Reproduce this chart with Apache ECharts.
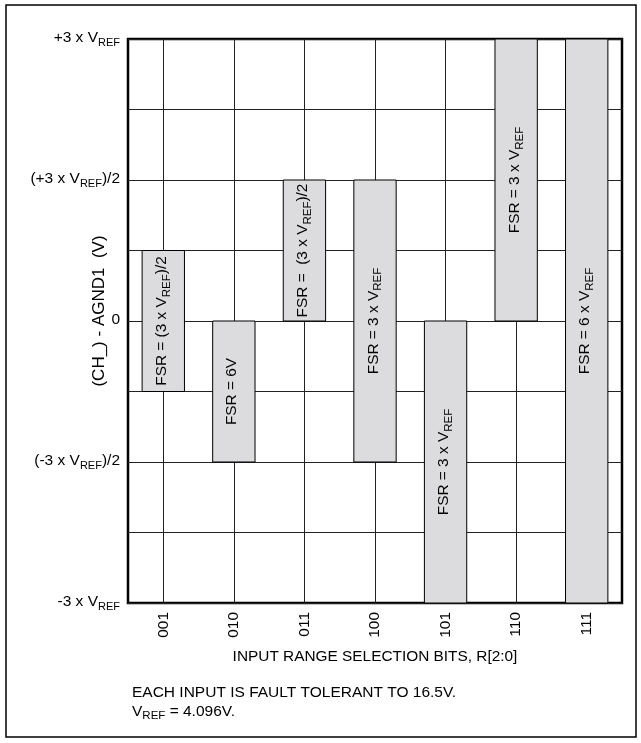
<!DOCTYPE html>
<html>
<head>
<meta charset="utf-8">
<script src="https://cdn.jsdelivr.net/npm/echarts@6/dist/echarts.min.js"></script>
<style>
  html, body { margin: 0; padding: 0; background: #fff; }
  #chart { width: 641px; height: 743px; }
</style>
</head>
<body>
<div id="chart"></div>
<script>
var categories = ['001', '010', '011', '100', '101', '110', '111'];
var rangeLow  = [-0.75, -1.5, 0,   -1.5, -3, 0, -3];
var rangeHigh = [ 0.75,  0,   1.5,  1.5,  0, 3,  3];
var barLabels = [
  '{a|FSR = (3 x V}{s|REF}{a|)/2}',
  '{a|FSR = 6V}',
  '{a|FSR =  (3 x V}{s|REF}{a|)/2}',
  '{a|FSR = 3 x V}{s|REF}',
  '{a|FSR = 3 x V}{s|REF}',
  '{a|FSR = 3 x V}{s|REF}',
  '{a|FSR = 6 x V}{s|REF}'
];
var yTickValues = [3, 1.5, 0, -1.5, -3];
var yTickLabels = [
  '{a|+3 x V}{s|REF}',
  '{a|(+3 x V}{s|REF}{a|)/2}',
  '{a|0}',
  '{a|(-3 x V}{s|REF}{a|)/2}',
  '{a|-3 x V}{s|REF}'
];

(function() {
  var font = '"Liberation Sans", Arial, sans-serif';
  var gridLine = '#222';

  function richStyle(size, sub) {
    return {
      a: { fontFamily: font, fontSize: size, color: '#000', lineHeight: size + 3, verticalAlign: 'top' },
      s: { fontFamily: font, fontSize: sub, color: '#000', lineHeight: sub, verticalAlign: 'bottom' }
    };
  }

  var chart = echarts.init(document.getElementById('chart'), null, { renderer: 'canvas' });

  var ranges = categories.map(function(c, i) {
    return [i, rangeLow[i], rangeHigh[i]];
  });

  chart.setOption({
    animation: false,
    grid: {
      left: 128, right: 19, top: 39, bottom: 140,
      show: true,
      borderColor: '#000',
      borderWidth: 2.5
    },
    xAxis: {
      type: 'category',
      data: categories,
      boundaryGap: true,
      name: 'INPUT RANGE SELECTION BITS, R[2:0]',
      nameLocation: 'middle',
      nameGap: 46,
      nameTextStyle: { fontFamily: font, fontSize: 15.4, color: '#000' },
      axisLine: { show: false },
      axisTick: { show: false },
      axisLabel: { rotate: 90, margin: 9, fontFamily: font, fontSize: 15.5, color: '#000' },
      splitLine: { show: false }
    },
    yAxis: {
      type: 'value',
      min: -3,
      max: 3,
      interval: 0.75,
      name: '(CH_) - AGND1  (V)',
      nameLocation: 'middle',
      nameRotate: 90,
      nameGap: 20,
      nameMoveOverlap: false,
      nameTextStyle: { fontFamily: font, fontSize: 17, color: '#000', padding: [0, 0, 0, 20] },
      axisLine: { show: false },
      axisTick: { show: false },
      axisLabel: {
        margin: 8,
        formatter: function(v) {
          var i = yTickValues.indexOf(v);
          return i < 0 ? '' : yTickLabels[i];
        },
        rich: richStyle(15.5, 11)
      },
      splitLine: { lineStyle: { color: gridLine, width: 1 } }
    },
    series: [
      {
        // vertical grid lines through the category centres, kept under the bars
        type: 'line',
        z: 1,
        silent: true,
        data: [],
        markLine: {
          z: 1,
          silent: true,
          symbol: 'none',
          animation: false,
          label: { show: false },
          lineStyle: { color: gridLine, type: 'solid', width: 1 },
          data: categories.map(function(c) { return { xAxis: c }; })
        }
      },
      {
        type: 'custom',
        z: 10,
        data: ranges,
        encode: { x: 0, y: [1, 2] },
        renderItem: function(params, api) {
          var x = api.value(0);
          var top = api.coord([x, api.value(2)]);
          var bot = api.coord([x, api.value(1)]);
          var w = api.size([1, 0])[0] * 0.6;
          return {
            type: 'group',
            children: [
              {
                type: 'rect',
                shape: { x: top[0] - w / 2, y: top[1], width: w, height: bot[1] - top[1] },
                style: { fill: '#dcdcde', stroke: '#000', lineWidth: 1 }
              },
              {
                type: 'text',
                x: top[0],
                y: (top[1] + bot[1]) / 2,
                rotation: Math.PI / 2,
                style: {
                  text: barLabels[params.dataIndex],
                  rich: richStyle(15.4, 11.5),
                  align: 'center',
                  verticalAlign: 'middle'
                }
              }
            ]
          };
        }
      }
    ],
    graphic: [
      {
        type: 'rect',
        shape: { x: 6, y: 5, width: 630, height: 732 },
        style: { fill: 'none', stroke: '#000', lineWidth: 1.5 }
      },
      {
        type: 'text',
        left: 132,
        top: 685,
        style: {
          text: '{a|EACH INPUT IS FAULT TOLERANT TO 16.5V.}\n{a|V}{s|REF}{a| = 4.096V.}',
          rich: richStyle(15.5, 11.5)
        }
      }
    ]
  });
})();
</script>
</body>
</html>
